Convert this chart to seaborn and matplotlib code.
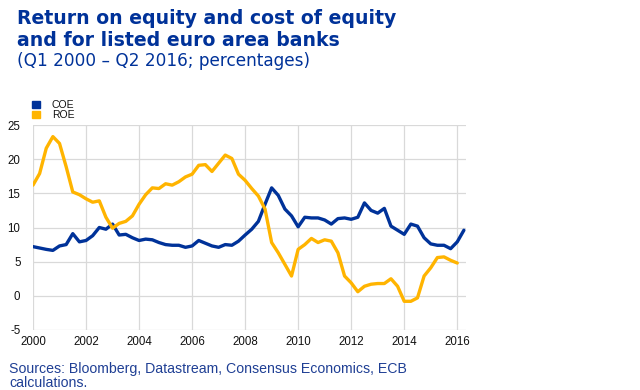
import numpy as np
import pandas as pd
import matplotlib
matplotlib.use("Agg")
import matplotlib.pyplot as plt
from matplotlib.patches import Patch
import seaborn as sns

# Quarterly observations, Q1 2000 onward
start_year = 2000
coe = [7.2, 7.0, 6.8, 6.65, 7.3, 7.5, 9.1, 7.9, 8.1, 8.8, 10.0, 9.75, 10.5, 8.9, 9.0, 8.5,
       8.1, 8.3, 8.2, 7.8, 7.5, 7.4, 7.4, 7.1, 7.3, 8.1, 7.7, 7.3, 7.1, 7.5, 7.4, 8.0,
       8.9, 9.75, 10.9, 13.4, 15.8, 14.7, 12.7, 11.7, 10.1, 11.5, 11.4, 11.4, 11.1,
       10.5, 11.3, 11.4, 11.2, 11.5, 13.6, 12.5, 12.1, 12.8, 10.2, 9.6, 9.0, 10.5, 10.2,
       8.5, 7.6, 7.4, 7.4, 6.9, 7.9, 9.6]
roe = [16.2, 17.9, 21.6, 23.3, 22.3, 18.9, 15.2, 14.8, 14.2, 13.7, 13.9, 11.5, 9.9, 10.6, 10.9, 11.7,
       13.4, 14.8, 15.8, 15.7, 16.4, 16.2, 16.7, 17.4, 17.8, 19.1, 19.2, 18.2, 19.4, 20.6, 20.1, 17.8,
       16.9, 15.7, 14.6, 12.7, 7.8, 6.3, 4.6, 2.9, 6.8, 7.5, 8.4, 7.8, 8.2,
       8.0, 6.3, 2.9, 1.9, 0.6, 1.4, 1.7, 1.8, 1.8, 2.5, 1.4, -0.8, -0.8, -0.3,
       2.9, 4.1, 5.6, 5.7, 5.2, 4.8]
series_names = ["COE", "ROE"]
series_colors = ["#003299", "#FFB400"]
xticks = [2000, 2002, 2004, 2006, 2008, 2010, 2012, 2014, 2016]
yticks = [-5, 0, 5, 10, 15, 20, 25]

t_coe = start_year + np.arange(len(coe)) * 0.25
t_roe = start_year + np.arange(len(roe)) * 0.25
df = pd.concat([
    pd.DataFrame({"t": t_coe, "v": coe, "s": "COE"}),
    pd.DataFrame({"t": t_roe, "v": roe, "s": "ROE"}),
])

sns.set_theme(style="white")
plt.rcParams['font.family'] = ['Liberation Sans', 'DejaVu Sans']

W, H = 640, 390
fig = plt.figure(figsize=(6.4, 3.9), dpi=100)
ax = fig.add_axes([33/W, 1-330/H, (466-33)/W, (330-125)/H])

sns.lineplot(data=df, x="t", y="v", hue="s", palette=dict(zip(series_names, series_colors)),
             linewidth=2.4, ax=ax, legend=False)

ax.set_xlim(2000, 2016.33)
ax.set_ylim(-5, 25)
ax.set_xticks(xticks)
ax.set_yticks(yticks)
ax.set_xticklabels([str(x) for x in xticks], fontsize=8.3)
ax.set_yticklabels([str(y) for y in yticks], fontsize=8.3)
ax.grid(True, color="#d9d9d9", linewidth=0.9)
ax.set_axisbelow(True)
for sp in ax.spines.values():
    sp.set_visible(False)
ax.tick_params(axis="both", length=0, colors="black", labelcolor="#111111")
ax.tick_params(axis="x", pad=4)
ax.tick_params(axis="y", pad=9)
ax.set_xlabel("")
ax.set_ylabel("")

handles = [Patch(facecolor=c, edgecolor=c) for c in series_colors]
fig.legend(handles, series_names, loc="upper left", bbox_to_anchor=(27/W, 1-95/H),
           frameon=False, fontsize=7.5, handlelength=0.7, handleheight=0.7,
           handletextpad=1.2, labelspacing=0.0, borderpad=0, labelcolor="#111111")

title_col = "#003299"
fig.text(17/W, 1-24.5/H, "Return on equity and cost of equity", color=title_col,
         fontsize=13.6, fontweight="bold", va="baseline", ha="left", family="DejaVu Sans")
fig.text(17/W, 1-46.5/H, "and for listed euro area banks", color=title_col,
         fontsize=13.6, fontweight="bold", va="baseline", ha="left", family="DejaVu Sans")
fig.text(17/W, 1-66.5/H, "(Q1 2000 \u2013 Q2 2016; percentages)", color=title_col,
         fontsize=12.2, va="baseline", ha="left", family="DejaVu Sans")
foot_col = "#1F3F94"
fig.text(9/W, 1-373/H, "Sources: Bloomberg, Datastream, Consensus Economics, ECB",
         color=foot_col, fontsize=10.2, va="baseline", ha="left")
fig.text(9/W, 1-387/H, "calculations.",
         color=foot_col, fontsize=10.2, va="baseline", ha="left")

fig.savefig("out.png", dpi=100)
